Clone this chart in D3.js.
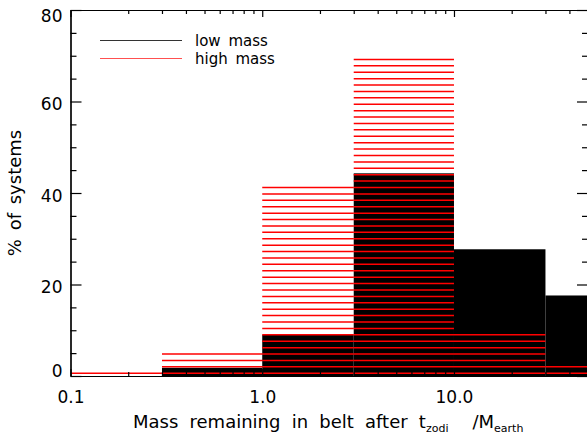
<!DOCTYPE html>
<html lang="en">
<head>
<meta charset="utf-8">
<title>Mass remaining in belt</title>
<script src="https://d3js.org/d3.v7.min.js"></script>
<style>
  body { margin: 0; background: #fff; }
  svg text { font-family: "DejaVu Sans", sans-serif; fill: #000; }
  .axis path, .axis line { stroke: #000; stroke-width: 1.2; }
</style>
</head>
<body>
<div id="chart"></div>
<script>
"use strict"

// bin edges (Mearth) and % of systems per bin
var binEdges = [0.1, 0.3, 1, 3, 10, 30, 100];
var lowMass  = [0, 1.8, 9.0, 44.3, 27.7, 17.6];
var highMass = [1.0, 5.3, 41.7, 69.8, 9.6, 2.6];

var xTickValues = [0.1, 1, 10];
var xTickLabels = ["0.1", "1.0", "10.0"];
var xMinorTicks = [0.2, 0.3, 0.4, 0.5, 0.6, 0.7, 0.8, 0.9, 2, 3, 4, 5, 6, 7, 8, 9, 20, 30, 40, 50];
var yTickValues = [0, 20, 40, 60, 80];
var yMinorTicks = [5, 10, 15, 25, 30, 35, 45, 50, 55, 65, 70, 75];

var seriesNames = ["low mass", "high mass"];

var largura = 587, altura = 435;
var esq = 70.5, dir = 588, topo = 10, base = 376;

var svg = d3.select("#chart").append("svg")
    .attr("width", largura)
    .attr("height", altura);

var x = d3.scaleLog().domain([0.1, 50]).range([esq, dir]);
var y = d3.scaleLinear().domain([0, 80]).range([base, topo]);

svg.append("clipPath").attr("id", "area")
  .append("rect")
    .attr("x", esq).attr("y", topo)
    .attr("width", dir - esq).attr("height", base - topo);

var bins = binEdges.slice(0, -1).map(function(lo, i) {
  return { lo: lo, hi: binEdges[i + 1], low: lowMass[i], high: highMass[i] };
});

var plot = svg.append("g").attr("clip-path", "url(#area)");

// low mass: solid black bars
plot.selectAll("rect.low")
  .data(bins)
  .enter().append("rect")
    .attr("class", "low")
    .attr("x", function(d) { return x(d.lo); })
    .attr("width", function(d) { return x(d.hi) - x(d.lo); })
    .attr("y", function(d) { return y(d.low); })
    .attr("height", function(d) { return y(0) - y(d.low); })
    .attr("fill", "#000");

// high mass: red horizontal line fill
var passo = 1.4, inicio = 0.6;
bins.forEach(function(d) {
  plot.selectAll(null)
    .data(d3.range(inicio, d.high, passo))
    .enter().append("line")
      .attr("x1", x(d.lo))
      .attr("x2", x(d.hi))
      .attr("y1", function(v) { return y(v); })
      .attr("y2", function(v) { return y(v); })
      .attr("stroke", "#ff0000")
      .attr("stroke-width", 1.5);
});

// axes (ticks inward, IDL style)
svg.append("g").attr("class", "axis")
    .attr("transform", "translate(0," + base + ")")
    .call(d3.axisBottom(x).tickValues(xTickValues).tickSize(-7).tickSizeOuter(0).tickPadding(15)
      .tickFormat(function(d, i) { return xTickLabels[i]; }))
    .call(function(g) { g.selectAll("text").attr("font-size", 17).attr("font-family", "DejaVu Sans"); });
svg.append("g").attr("class", "axis")
    .attr("transform", "translate(0," + base + ")")
    .call(d3.axisBottom(x).tickValues(xMinorTicks).tickSize(-4).tickSizeOuter(0).tickFormat(""));

svg.append("g").attr("class", "axis")
    .attr("transform", "translate(0," + topo + ")")
    .call(d3.axisTop(x).tickValues(xTickValues).tickSize(-7).tickSizeOuter(0).tickFormat(""));
svg.append("g").attr("class", "axis")
    .attr("transform", "translate(0," + topo + ")")
    .call(d3.axisTop(x).tickValues(xMinorTicks).tickSize(-4).tickSizeOuter(0).tickFormat(""));

var eixoY = svg.append("g").attr("class", "axis")
    .attr("transform", "translate(" + esq + ",0)")
    .call(d3.axisLeft(y).tickValues(yTickValues).tickSize(-11).tickSizeOuter(0).tickPadding(8));
eixoY.selectAll("text")
    .attr("font-size", 17).attr("font-family", "DejaVu Sans")
    .attr("dy", null)
    .attr("dominant-baseline", "central")
    .attr("y", function(d) {
      var p = y(d) + 2;
      return Math.min(Math.max(p, topo + 5.5), base - 6) - y(d);
    });
svg.append("g").attr("class", "axis")
    .attr("transform", "translate(" + esq + ",0)")
    .call(d3.axisLeft(y).tickValues(yMinorTicks).tickSize(-6).tickSizeOuter(0).tickFormat(""));

svg.append("g").attr("class", "axis")
    .attr("transform", "translate(" + dir + ",0)")
    .call(d3.axisRight(y).tickValues(yTickValues).tickSize(-11).tickSizeOuter(0).tickFormat(""));
svg.append("g").attr("class", "axis")
    .attr("transform", "translate(" + dir + ",0)")
    .call(d3.axisRight(y).tickValues(yMinorTicks).tickSize(-6).tickSizeOuter(0).tickFormat(""));

svg.selectAll(".axis .domain").attr("stroke-width", 1.5);

// axis titles
var tx = svg.append("text")
    .attr("x", 133).attr("y", 428)
    .attr("font-size", 18)
    .attr("word-spacing", "5.5px");
tx.append("tspan").text("Mass remaining in belt after t");
tx.append("tspan").attr("font-size", 11).attr("dy", 4).text("zodi");
tx.append("tspan").attr("dy", -4).attr("dx", 24).text("/M");
tx.append("tspan").attr("font-size", 11).attr("dy", 4).text("earth");

svg.append("text")
    .attr("transform", "translate(21," + (topo + base) / 2 + ") rotate(-90)")
    .attr("text-anchor", "middle")
    .attr("font-size", 18)
    .attr("word-spacing", "3px")
    .text("% of systems");

// legend
var cores = ["#333", "#ff5050"];
var legenda = svg.selectAll("g.leg")
  .data(seriesNames)
  .enter().append("g")
    .attr("class", "leg")
    .attr("transform", function(d, i) { return "translate(0," + (40.5 + i * 18) + ")"; });
legenda.append("line")
    .attr("x1", 100).attr("x2", 182)
    .attr("stroke", function(d, i) { return cores[i]; })
    .attr("stroke-width", 1.2);
legenda.append("text")
    .attr("x", 195).attr("y", 5)
    .attr("font-size", 15)
    .attr("word-spacing", "3px")
    .text(function(d) { return d; });
</script>
</body>
</html>
